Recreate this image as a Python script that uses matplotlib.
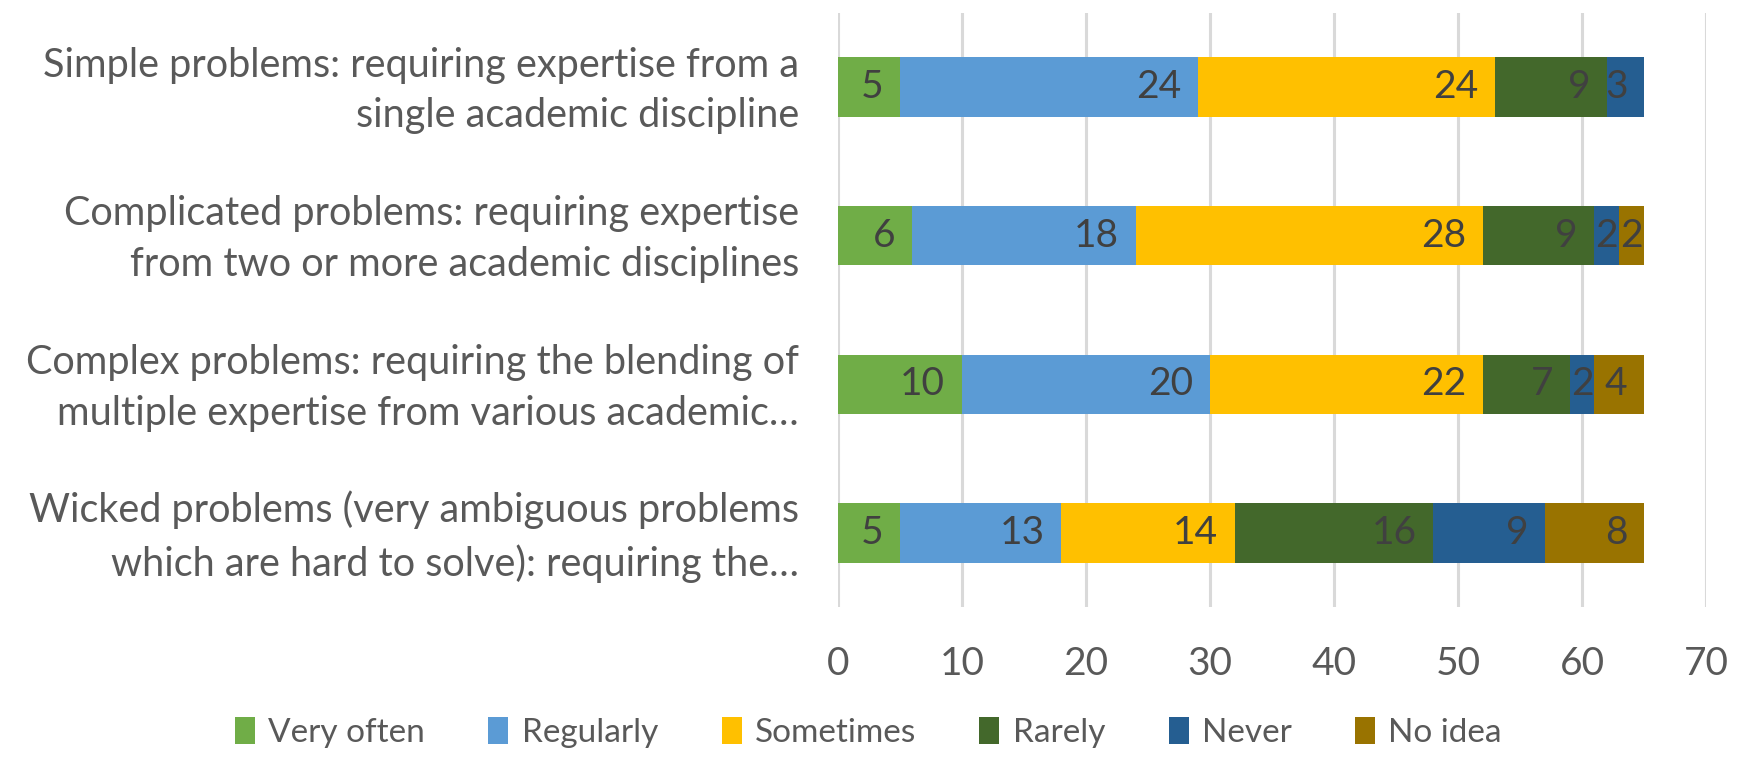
import numpy as np
import matplotlib.pyplot as plt
from matplotlib.transforms import ScaledTranslation

plt.rcParams['font.family'] = ['Lato', 'DejaVu Sans']

categories = ['Simple problems: requiring expertise from a\nsingle academic discipline',
              'Complicated problems: requiring expertise\nfrom two or more academic disciplines',
              'Complex problems: requiring the blending of\nmultiple expertise from various academic\u2026',
              'Wicked problems (very ambiguous problems\nwhich are hard to solve): requiring the\u2026']
series = ['Very often', 'Regularly', 'Sometimes', 'Rarely', 'Never', 'No idea']
very_often = [5, 6, 10, 5]
regularly = [24, 18, 20, 13]
sometimes = [24, 28, 22, 14]
rarely = [9, 9, 7, 16]
never = [3, 2, 2, 9]
no_idea = [0, 2, 4, 8]
colors = ['#70AD47', '#5B9BD5', '#FFC000', '#43682B', '#255E91', '#997300']

values = [very_often, regularly, sometimes, rarely, never, no_idea]

fig = plt.figure(figsize=(17.37, 7.58), dpi=100)
ax = fig.add_axes([0.4824, 0.199, 0.4998, 0.784])

y = np.arange(len(categories))
left = np.zeros(len(categories))
for name, vals, col in zip(series, values, colors):
    vals = np.array(vals, dtype=float)
    ax.barh(y, vals, left=left, height=0.40, color=col, label=name, zorder=3)
    for yi, (l, v) in enumerate(zip(left, vals)):
        if v <= 0:
            continue
        if v >= 3:
            ax.annotate('%d' % v, (l + v, yi), xytext=(-12, 0), textcoords='offset points',
                        ha='right', va='center', fontsize=28, color='#404040', zorder=4)
        else:
            ax.text(l + v / 2, yi, '%d' % v, ha='center', va='center',
                    fontsize=28, color='#404040', zorder=4)
    left += vals

ax.set_xlim(0, 70)
ax.set_ylim(len(categories) - 0.5, -0.5)
ax.set_xticks(np.arange(0, 71, 10))
ax.set_yticks(y)
ax.set_yticklabels(categories, fontsize=28.5, color='#595959', linespacing=1.46)
ax.tick_params(axis='x', labelsize=28, labelcolor='#595959', length=0, pad=28)
ax.tick_params(axis='y', length=0, pad=28)
# nudge category labels up a bit like excel does (after tick_params, which resets transforms)
for lbl in ax.get_yticklabels():
    lbl.set_transform(lbl.get_transform() + ScaledTranslation(0, 0.07, fig.dpi_scale_trans))
ax.grid(axis='x', color='#D9D9D9', linewidth=2.2, zorder=0)
for s in ax.spines.values():
    s.set_visible(False)

fig.legend(loc='lower center', bbox_to_anchor=(0.5, -0.013), ncol=6, frameon=False,
           fontsize=24, labelcolor='#595959', handlelength=0.6, handleheight=0.9,
           handletextpad=0.4, columnspacing=1.9, borderaxespad=0.2)

fig.savefig('out.png', dpi=100)
